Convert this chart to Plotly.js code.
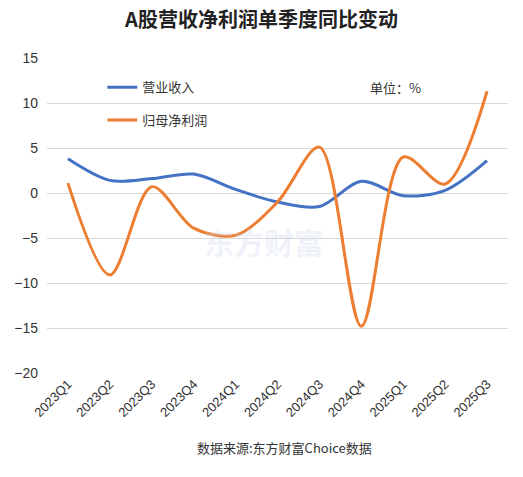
<!DOCTYPE html>
<html>
<head>
<meta charset="utf-8">
<script src="https://cdn.plot.ly/plotly-3.0.1.min.js"></script>
<style>
  body { margin: 0; background: #fff; }
  #chart { width: 523px; height: 477px; }
</style>
</head>
<body>
<div id="chart"></div>
<script>
var quarters = ['2023Q1', '2023Q2', '2023Q3', '2023Q4', '2024Q1', '2024Q2',
                '2024Q3', '2024Q4', '2025Q1', '2025Q2', '2025Q3'];
var revenue = [3.8, 1.4, 1.6, 2.1, 0.4, -1.0, -1.5, 1.3, -0.3, 0.3, 3.6];
var netProfit = [1.1, -9.1, 0.7, -3.9, -4.7, -1.0, 5.1, -14.8, 4.0, 1.0, 11.3];

var font = 'Liberation Sans, Noto Sans CJK SC, sans-serif';

var data = [
  {
    x: quarters,
    y: revenue,
    type: 'scatter',
    mode: 'lines',
    line: {shape: 'spline', smoothing: 0.9, color: '#4472C4', width: 3},
    name: '营业收入',
    legendgroup: 'a'
  },
  {
    x: quarters,
    y: netProfit,
    type: 'scatter',
    mode: 'lines',
    line: {shape: 'spline', smoothing: 0.9, color: '#ED7D31', width: 3},
    name: '归母净利润',
    legendgroup: 'b'
  }
];

var layout = {
  width: 523,
  height: 477,
  paper_bgcolor: '#fff',
  plot_bgcolor: '#fff',
  font: {family: font, color: '#333', size: 13},
  title: {
    text: '<b>A股营收净利润单季度同比变动</b>',
    font: {family: 'Noto Sans CJK SC', size: 20, color: '#222'},
    x: 0.5,
    xanchor: 'center',
    y: 0.958,
    yanchor: 'middle'
  },
  margin: {t: 58, b: 104, l: 47, r: 15},
  xaxis: {
    type: 'category',
    range: [-0.5, 10.5],
    tickangle: -45,
    tickfont: {size: 13, color: '#333'},
    showgrid: false,
    zeroline: false,
    showline: false,
    ticks: ''
  },
  yaxis: {
    range: [-20, 15],
    dtick: 5,
    tick0: 0,
    gridcolor: '#d9d9d9',
    gridwidth: 1,
    zeroline: false,
    showline: false,
    tickfont: {size: 14, color: '#333'},
    ticklabelstandoff: 8
  },
  showlegend: true,
  legend: {
    x: 0.12,
    y: 0.955,
    xanchor: 'left',
    yanchor: 'top',
    bgcolor: 'rgba(0,0,0,0)',
    font: {family: 'Noto Sans CJK SC', size: 13, color: '#333'},
    traceorder: 'grouped',
    tracegroupgap: 13,
    itemwidth: 30
  },
  annotations: [
    {
      text: '单位：%',
      xref: 'paper', yref: 'paper',
      x: 0.755, y: 0.905,
      xanchor: 'center', yanchor: 'middle',
      showarrow: false,
      font: {family: 'Noto Sans CJK SC', size: 13, color: '#333'}
    },
    {
      text: '数据来源:东方财富Choice数据',
      xref: 'paper', yref: 'paper',
      x: 0.515, y: -0.235,
      xanchor: 'center', yanchor: 'middle',
      showarrow: false,
      font: {family: 'Noto Sans CJK SC', size: 13, color: '#333'}
    },
    {
      text: '<b>东方财富</b>',
      xref: 'paper', yref: 'paper',
      x: 0.47, y: 0.42,
      xanchor: 'center', yanchor: 'middle',
      showarrow: false,
      font: {family: 'Noto Sans CJK SC', size: 30, color: 'rgba(200,215,235,0.3)'}
    }
  ]
};

Plotly.newPlot('chart', data, layout, {displayModeBar: false});
</script>
</body>
</html>
